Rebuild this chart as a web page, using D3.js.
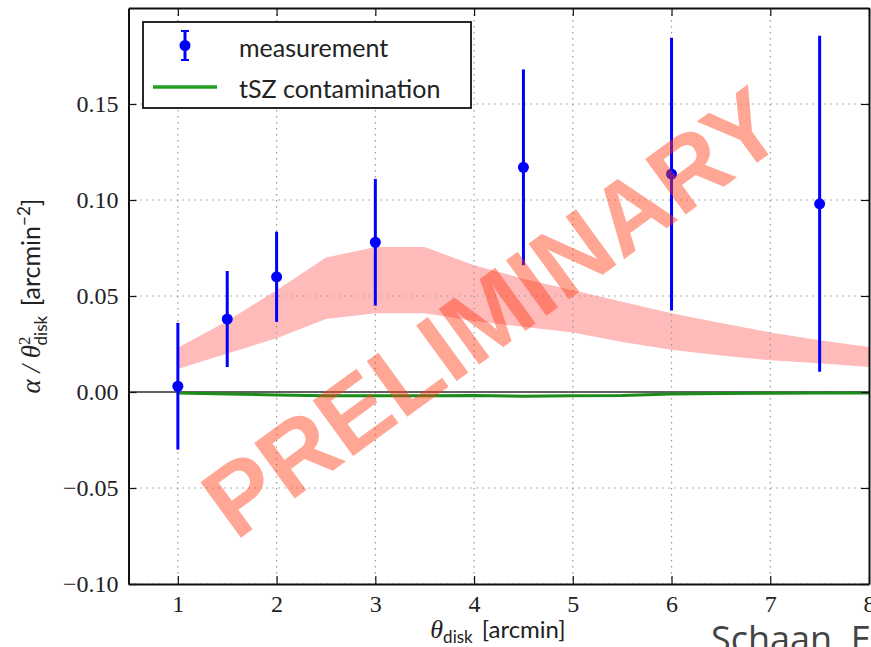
<!DOCTYPE html>
<html>
<head>
<meta charset="utf-8">
<script src="https://cdn.jsdelivr.net/npm/d3@7"></script>
<style>
	body { margin: 0; background: #fff; }
	svg { display: block; }
</style>
</head>
<body>
<script>
//--data
var theta_pts = [1, 1.5, 2, 3, 4.5, 6, 7.5];
var alpha_pts = [0.003, 0.038, 0.060, 0.078, 0.117, 0.1135, 0.098];
var alpha_err = [0.033, 0.025, 0.0235, 0.033, 0.051, 0.071, 0.0875];

var theta_band = [1, 1.5, 2, 2.5, 3, 3.5, 4, 4.5, 5, 5.5, 6, 6.5, 7, 7.5, 8];
var band_high = [0.023, 0.037, 0.053, 0.070, 0.0755, 0.0755, 0.066, 0.059, 0.053, 0.047, 0.041, 0.036, 0.031, 0.027, 0.0235];
var band_low = [0.012, 0.020, 0.028, 0.038, 0.041, 0.041, 0.037, 0.034, 0.031, 0.026, 0.022, 0.019, 0.0165, 0.015, 0.013];

var tsz_vals = [-0.0005, -0.001, -0.0015, -0.002, -0.002, -0.002, -0.0018, -0.0022, -0.002, -0.0018, -0.001, -0.0008, -0.0006, -0.0005, -0.0005];

var x_ticks = [1, 2, 3, 4, 5, 6, 7, 8];
var y_ticks = [-0.10, -0.05, 0.00, 0.05, 0.10, 0.15];
//END - data

var width = 871, height = 647;
var x = d3.scaleLinear().domain([0.5, 8]).range([128.5, 869]);
var y = d3.scaleLinear().domain([-0.1, 0.2]).range([584, 8]);

var svg = d3.select("body").append("svg")
	.attr("width", width)
	.attr("height", height);

//band
var band = theta_band.map(function (t, i) { return { t: t, lo: band_low[i], hi: band_high[i] }; });
svg.append("path")
	.datum(band)
	.attr("fill", "#ff0000")
	.attr("fill-opacity", 0.27)
	.attr("d", d3.area()
		.x(function (d) { return x(d.t); })
		.y0(function (d) { return y(d.lo); })
		.y1(function (d) { return y(d.hi); }));

//grid
svg.append("g").selectAll("line").data(x_ticks.slice(0, 7)).enter().append("line")
	.attr("x1", function (d) { return x(d); }).attr("x2", function (d) { return x(d); })
	.attr("y1", y(0.2)).attr("y2", y(-0.1))
	.attr("stroke", "#999").attr("stroke-width", 1.2).attr("stroke-dasharray", "1.5,4.5");
svg.append("g").selectAll("line").data(y_ticks).enter().append("line")
	.attr("x1", x(0.5)).attr("x2", x(8))
	.attr("y1", function (d) { return y(d); }).attr("y2", function (d) { return y(d); })
	.attr("stroke", "#999").attr("stroke-width", 1.2).attr("stroke-dasharray", "1.5,4.5");

//zero line
svg.append("line")
	.attr("x1", x(0.5)).attr("x2", x(8))
	.attr("y1", y(0)).attr("y2", y(0))
	.attr("stroke", "#333").attr("stroke-width", 1.5);

//tSZ line
svg.append("path")
	.datum(tsz_vals)
	.attr("fill", "none")
	.attr("stroke", "#1a8c1a")
	.attr("stroke-width", 3)
	.attr("d", d3.line()
		.x(function (d, i) { return x(theta_band[i]); })
		.y(function (d) { return y(d); }));

//errorbars
var meas = svg.append("g");
meas.selectAll("line").data(theta_pts).enter().append("line")
	.attr("x1", function (d) { return x(d); }).attr("x2", function (d) { return x(d); })
	.attr("y1", function (d, i) { return y(alpha_pts[i] + alpha_err[i]); })
	.attr("y2", function (d, i) { return y(alpha_pts[i] - alpha_err[i]); })
	.attr("stroke", "#0000ff").attr("stroke-width", 3);
meas.selectAll("circle").data(theta_pts).enter().append("circle")
	.attr("cx", function (d) { return x(d); })
	.attr("cy", function (d, i) { return y(alpha_pts[i]); })
	.attr("r", 5.5)
	.attr("fill", "#0000ff");

//axes (ticks inside, all four sides)
var ax_font = "'Liberation Serif', serif";
var ax_bottom = svg.append("g").attr("transform", "translate(0," + y(-0.1) + ")")
	.call(d3.axisBottom(x).tickValues(x_ticks).tickSizeInner(-8).tickSizeOuter(0).tickPadding(11).tickFormat(d3.format("d")));
var ax_top = svg.append("g").attr("transform", "translate(0," + y(0.2) + ")")
	.call(d3.axisTop(x).tickValues(x_ticks).tickSizeInner(-8).tickSizeOuter(0).tickFormat(""));
var ax_left = svg.append("g").attr("transform", "translate(" + x(0.5) + ",0)")
	.call(d3.axisLeft(y).tickValues(y_ticks).tickSizeInner(-8).tickSizeOuter(0).tickPadding(10)
		.tickFormat(function (d) { return d3.format(".2f")(d).replace("-", "\u2212"); }));
var ax_right = svg.append("g").attr("transform", "translate(" + x(8) + ",0)")
	.call(d3.axisRight(y).tickValues(y_ticks).tickSizeInner(-8).tickSizeOuter(0).tickFormat(""));

[ax_bottom, ax_top, ax_left, ax_right].forEach(function (g) {
	g.select(".domain").attr("stroke", "#111").attr("stroke-width", 2);
	g.selectAll(".tick line").attr("stroke", "#111").attr("stroke-width", 1.2);
	g.selectAll("text").attr("font-family", ax_font).attr("font-size", 24).attr("fill", "#222");
});
ax_bottom.selectAll("text").attr("dy", "0.71em");

//legend
var lg = svg.append("g");
lg.append("rect")
	.attr("x", 143).attr("y", 22).attr("width", 328).attr("height", 86)
	.attr("fill", "#fff").attr("stroke", "#111").attr("stroke-width", 1.8);
lg.append("line").attr("x1", 185).attr("x2", 185).attr("y1", 31).attr("y2", 60)
	.attr("stroke", "#0000ff").attr("stroke-width", 3);
lg.append("line").attr("x1", 181).attr("x2", 189).attr("y1", 31).attr("y2", 31)
	.attr("stroke", "#0000ff").attr("stroke-width", 2);
lg.append("line").attr("x1", 181).attr("x2", 189).attr("y1", 60).attr("y2", 60)
	.attr("stroke", "#0000ff").attr("stroke-width", 2);
lg.append("circle").attr("cx", 185).attr("cy", 45.5).attr("r", 5.5).attr("fill", "#0000ff");
lg.append("line").attr("x1", 153).attr("x2", 217).attr("y1", 87).attr("y2", 87)
	.attr("stroke", "#22a022").attr("stroke-width", 3.5);
lg.append("text").attr("x", 239).attr("y", 57).text("measurement")
	.attr("font-family", "Lato, sans-serif").attr("font-size", 25).attr("fill", "#222");
lg.append("text").attr("x", 239).attr("y", 98).text("tSZ contamination")
	.attr("font-family", "Lato, sans-serif").attr("font-size", 25).attr("fill", "#222");

//axis labels
var xl = svg.append("text")
	.attr("x", 498).attr("y", 638)
	.attr("text-anchor", "middle")
	.attr("font-family", "Lato, sans-serif").attr("font-size", 24).attr("fill", "#222");
xl.append("tspan").attr("font-family", ax_font).attr("font-style", "italic").attr("font-size", 26).text("\u03b8");
xl.append("tspan").attr("font-size", 17).attr("dy", 5).text("disk");
xl.append("tspan").attr("dy", -5).text("\u2009 [arcmin]");

var yl = svg.append("text")
	.attr("transform", "translate(40,296) rotate(-90)")
	.attr("text-anchor", "middle")
	.attr("font-family", "Lato, sans-serif").attr("font-size", 25).attr("fill", "#222");
yl.append("tspan").attr("font-family", ax_font).attr("font-style", "italic").attr("font-size", 27).text("\u03b1 / \u03b8");
yl.append("tspan").attr("font-family", ax_font).attr("font-size", 17).attr("dy", -10).text("2");
yl.append("tspan").attr("font-size", 17).attr("dx", -9).attr("dy", 17).text("disk");
yl.append("tspan").attr("dy", -7).text("\u2009 [arcmin");
yl.append("tspan").attr("font-size", 17).attr("dy", -10).text("\u22122");
yl.append("tspan").attr("dy", 10).text("]");

//watermark
svg.append("text")
	.attr("transform", "translate(492,312) rotate(-36)")
	.attr("text-anchor", "middle")
	.attr("dominant-baseline", "central")
	.attr("font-family", "'Liberation Sans', Arial, sans-serif")
	.attr("font-weight", "bold")
	.attr("font-size", 100)
	.attr("fill", "#ff3a14")
	.attr("fill-opacity", 0.45)
	.text("PRELIMINARY");

//credit
svg.append("text")
	.attr("x", 711).attr("y", 652)
	.attr("font-family", "'Open Sans', sans-serif")
	.attr("font-size", 36)
	.attr("fill", "#444")
	.text("Schaan, E");
</script>
</body>
</html>
